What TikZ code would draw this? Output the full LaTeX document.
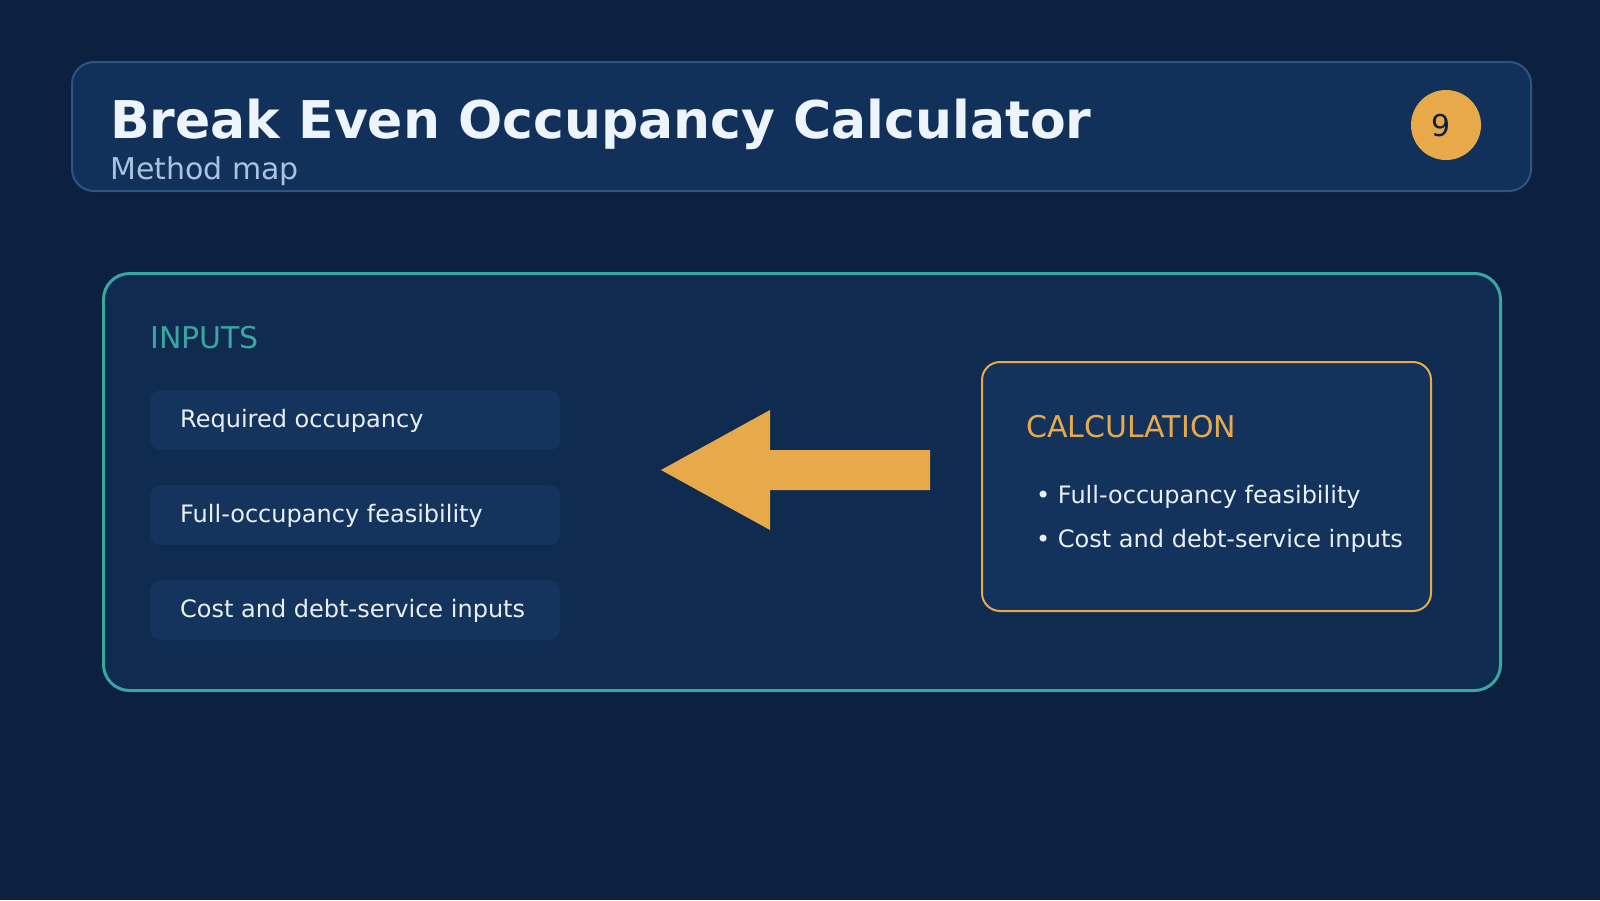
\documentclass[tikz,border=0pt]{standalone}
\usepackage{fontspec}
\setmainfont{DejaVu Sans}
\definecolor{bg}{HTML}{0C2140}
\definecolor{headfill}{HTML}{12315A}
\definecolor{headline}{HTML}{2E5384}
\definecolor{panelfill}{HTML}{0F2B50}
\definecolor{panelline}{HTML}{3BA5A3}
\definecolor{boxfill}{HTML}{14345D}
\definecolor{calcfill}{HTML}{13335C}
\definecolor{accent}{HTML}{E8A94A}
\definecolor{titlecol}{HTML}{EEF4FB}
\definecolor{subcol}{HTML}{A9C3DF}
\definecolor{textcol}{HTML}{EAF0F7}
\begin{document}
\begin{tikzpicture}[x=1pt,y=-1pt,
  hdr/.style={draw=headline, line width=2pt, fill=headfill, rounded corners=22pt, inner sep=0pt},
  panel/.style={draw=panelline, line width=3pt, fill=panelfill, rounded corners=26pt, inner sep=0pt},
  inbox/.style={fill=boxfill, rounded corners=11pt, inner sep=0pt, minimum width=410pt, minimum height=60pt, anchor=north west},
  calcbox/.style={draw=accent, line width=2pt, fill=calcfill, rounded corners=18pt, inner sep=0pt},
  txt/.style={inner sep=0pt, anchor=base west},
  titletxt/.style={txt, text=titlecol, font=\bfseries\fontsize{52}{60}\selectfont},
  subtxt/.style={txt, text=subcol, font=\fontsize{30}{36}\selectfont},
  headtxt/.style={txt, font=\fontsize{30}{36}\selectfont},
  bodytxt/.style={txt, text=textcol, font=\fontsize{24}{29}\selectfont},
  badge/.style={circle, fill=accent, minimum size=70pt, inner sep=0pt},
  blockarrow/.style={fill=accent}
]
\useasboundingbox (0,0) rectangle (1600,900);
\fill[bg] (0,0) rectangle (1600,900);

% header
\node[hdr, minimum width=1459pt, minimum height=129pt, anchor=north west] (header) at (71,61) {};
\node[titletxt] (title) at (110,138) {Break Even Occupancy Calculator};
\node[subtxt] (subtitle) at (110,179) {Method map};
\node[badge] (badge) at (1446,125) {};
\node[inner sep=0pt, anchor=base, text=bg, font=\fontsize{30}{36}\selectfont] (nine) at (1441,136) {9};

% main panel
\node[panel, minimum width=1397pt, minimum height=417pt, anchor=north west] (panel) at (102,272) {};
\node[headtxt, text=panelline] (inputs) at (150,348) {INPUTS};

\node[inbox] (b1) at (150,390) {};
\node[inbox] (b2) at (150,485) {};
\node[inbox] (b3) at (150,580) {};
\node[bodytxt] (t1) at (180,427) {Required occupancy};
\node[bodytxt] (t2) at (180,522) {Full-occupancy feasibility};
\node[bodytxt] (t3) at (180,617) {Cost and debt-service inputs};

% block arrow
\coordinate (tip) at (661,470);
\fill[blockarrow] (tip) -- (770,410) -- (770,450) -- (930,450) -- (930,490) -- (770,490) -- (770,530) -- cycle;

% calculation box
\node[calcbox, minimum width=449pt, minimum height=249pt, anchor=north west] (calc) at (981,361) {};
\node[headtxt, text=accent] (calctitle) at (1026,437) {CALCULATION};
\node[bodytxt] (c1) at (1036,503) {• Full-occupancy feasibility};
\node[bodytxt] (c2) at (1036,547) {• Cost and debt-service inputs};
\end{tikzpicture}
\end{document}
